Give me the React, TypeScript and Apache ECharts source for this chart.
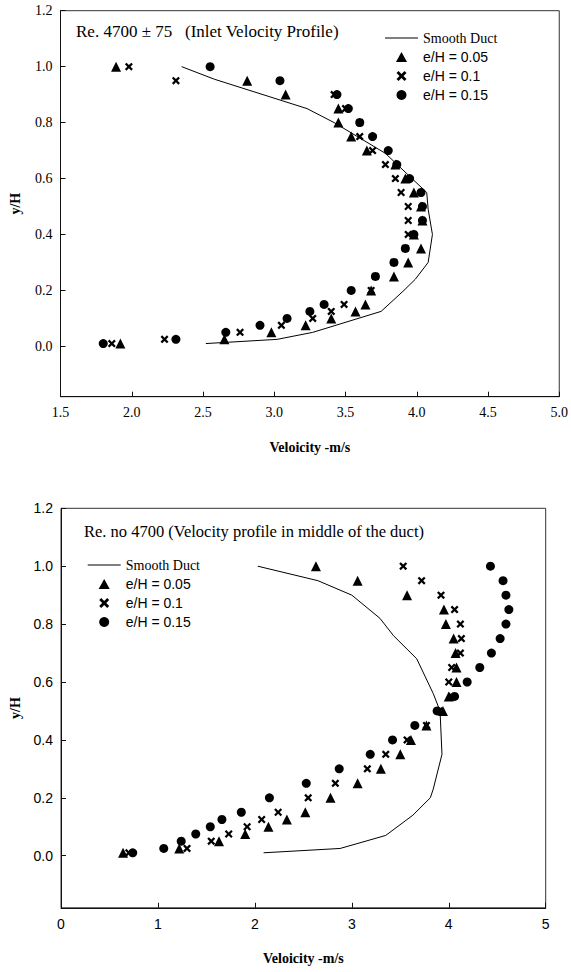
import React, { useEffect, useRef } from "react";
import * as echarts from "echarts";

// y/H positions where the profiles were measured
const Y_POS = [0.01, 0.025, 0.05, 0.075, 0.1, 0.125, 0.15, 0.2, 0.25, 0.3, 0.35, 0.4, 0.45, 0.5, 0.55, 0.6, 0.65, 0.7, 0.75, 0.8, 0.85, 0.9, 0.95, 1.0];

// Top chart: inlet velocity profile (m/s)
const TOP_E005 = [1.92, 2.65, 2.98, 3.22, 3.40, 3.57, 3.64, 3.68, 3.84, 3.94, 4.03, 3.98, 4.04, 4.03, 3.98, 3.92, 3.85, 3.65, 3.54, 3.45, 3.45, 3.08, 2.81, 1.89];
const TOP_E010 = [1.86, 2.23, 2.76, 3.05, 3.27, 3.40, 3.49, 3.68, 3.71, 3.84, 3.92, 3.94, 3.94, 3.94, 3.89, 3.85, 3.78, 3.69, 3.60, 3.60, 3.50, 3.42, 2.31, 1.98];
const TOP_E015 = [1.80, 2.31, 2.66, 2.90, 3.09, 3.25, 3.35, 3.54, 3.71, 3.84, 3.92, 3.98, 4.04, 4.04, 4.03, 3.95, 3.86, 3.80, 3.69, 3.60, 3.52, 3.44, 3.04, 2.55];
const TOP_SMOOTH_Y = [0.01, 0.025, 0.05, 0.125, 0.2, 0.24, 0.3, 0.4, 0.49, 0.55, 0.69, 0.8, 0.85, 0.955, 1.0];
const TOP_SMOOTH_V = [2.52, 3.02, 3.27, 3.75, 3.91, 3.99, 4.08, 4.11, 4.08, 4.07, 3.78, 3.42, 3.23, 2.58, 2.35];

// Bottom chart: velocity profile in the middle of the duct (m/s)
const BOT_E005 = [0.64, 1.22, 1.63, 1.90, 2.14, 2.33, 2.52, 2.78, 3.06, 3.30, 3.50, 3.61, 3.77, 3.94, 4.00, 4.08, 4.08, 4.07, 4.05, 3.97, 3.95, 3.57, 3.06, 2.63];
const BOT_E010 = [0.70, 1.30, 1.55, 1.73, 1.92, 2.07, 2.24, 2.55, 2.83, 3.16, 3.35, 3.57, 3.77, 3.90, 4.03, 4.00, 4.03, 4.12, 4.13, 4.12, 4.06, 3.92, 3.72, 3.53];
const BOT_E015 = [0.74, 1.06, 1.24, 1.39, 1.54, 1.66, 1.86, 2.15, 2.53, 2.87, 3.19, 3.42, 3.65, 3.88, 4.06, 4.19, 4.32, 4.44, 4.53, 4.59, 4.62, 4.59, 4.56, 4.43];
const BOT_SMOOTH_Y = [0.01, 0.025, 0.07, 0.14, 0.2, 0.23, 0.35, 0.5, 0.56, 0.68, 0.76, 0.82, 0.9, 0.95, 1.0];
const BOT_SMOOTH_V = [2.09, 2.88, 3.35, 3.63, 3.81, 3.84, 3.93, 3.91, 3.84, 3.67, 3.43, 3.29, 3.00, 2.65, 2.03];

const Y_TICKS = [0, 0.2, 0.4, 0.6, 0.8, 1.0, 1.2];
const SERIES_NAMES = ["Smooth Duct", "e/H = 0.05", "e/H = 0.1", "e/H = 0.15"];
const TOP_TITLE = "Re. 4700 \u00B1 75   (Inlet Velocity Profile)";
const BOT_TITLE = "Re. no 4700 (Velocity profile in middle of the duct)";
const X_NAME = "Veloicity -m/s";
const Y_NAME = "y/H";

const CROSS = "path://M0,2L2,0L5,3L8,0L10,2L7,5L10,8L8,10L5,7L2,10L0,8L3,5Z";
const TRI = "path://M5,0L10,9L0,9Z";
const LINE_ICON = "path://M0,0L32,0L32,1L0,1Z";
const SERIF = "Liberation Serif";
const SANS = "Liberation Sans";

const pairs = (xs: number[], ys: number[]) => xs.map((x, i) => [x, ys[i]]);

function buildOption() {
  const axisLine = { show: true, onZero: false, lineStyle: { color: "#111", width: 1 } };
  const tick = { show: true, inside: true, length: 5, lineStyle: { color: "#111" } };
  const black = { color: "#000", opacity: 1 };

  const xAxisCommon = (font: string, digits: number) => ({
    type: "value",
    axisLine,
    axisTick: tick,
    splitLine: { show: false },
    axisLabel: {
      color: "#000",
      fontFamily: font,
      fontSize: 14,
      margin: 9,
      formatter: (v: number) => v.toFixed(digits),
    },
    name: X_NAME,
    nameLocation: "middle",
    nameGap: 44,
    nameTextStyle: { fontFamily: SERIF, fontWeight: "bold", fontSize: 14, color: "#000" },
  });

  const yAxisCommon = (font: string) => ({
    type: "value",
    min: -0.18,
    max: 1.2,
    axisLine,
    axisTick: { ...tick, customValues: Y_TICKS },
    splitLine: { show: false },
    axisLabel: {
      customValues: Y_TICKS,
      color: "#000",
      fontFamily: font,
      fontSize: 14,
      margin: 8,
      formatter: (v: number) => v.toFixed(1),
    },
    name: Y_NAME,
    nameLocation: "middle",
    nameGap: 38,
    nameRotate: 90,
    nameTextStyle: { fontFamily: SERIF, fontWeight: "bold", fontSize: 14, color: "#000" },
  });

  const makeSeries = (idx: number, smoothV: number[], smoothY: number[], a: number[], b: number[], c: number[]) => [
    {
      name: SERIES_NAMES[0],
      type: "line",
      xAxisIndex: idx,
      yAxisIndex: idx,
      data: pairs(smoothV, smoothY),
      symbol: "none",
      lineStyle: { color: "#000", width: 1, opacity: 1 },
      itemStyle: black,
    },
    {
      name: SERIES_NAMES[1],
      type: "scatter",
      xAxisIndex: idx,
      yAxisIndex: idx,
      data: pairs(a, Y_POS),
      symbol: "triangle",
      symbolSize: 10,
      itemStyle: black,
    },
    {
      name: SERIES_NAMES[2],
      type: "scatter",
      xAxisIndex: idx,
      yAxisIndex: idx,
      data: pairs(b, Y_POS),
      symbol: CROSS,
      symbolSize: 8,
      itemStyle: black,
    },
    {
      name: SERIES_NAMES[3],
      type: "scatter",
      xAxisIndex: idx,
      yAxisIndex: idx,
      data: pairs(c, Y_POS),
      symbol: "circle",
      symbolSize: 9,
      itemStyle: black,
    },
  ];

  const legend = (left: number, top: number) => ({
    left,
    top,
    orient: "vertical",
    align: "left",
    itemWidth: 33,
    itemHeight: 10,
    itemGap: 5,
    selectedMode: false,
    itemStyle: { opacity: 1 },
    textStyle: { fontFamily: SANS, fontSize: 14, color: "#000" },
    data: [
      { name: SERIES_NAMES[0], icon: LINE_ICON, textStyle: { fontFamily: SERIF, fontSize: 14, color: "#000" } },
      { name: SERIES_NAMES[1], icon: TRI },
      { name: SERIES_NAMES[2], icon: CROSS },
      { name: SERIES_NAMES[3], icon: "circle" },
    ],
  });

  return {
    animation: false,
    backgroundColor: "#fff",
    grid: [
      { left: 60.5, top: 10.7, width: 500.5, height: 386, show: true, borderColor: "#333", borderWidth: 1, backgroundColor: "transparent" },
      { left: 61, top: 508.3, width: 484.7, height: 399.5, show: true, borderColor: "#333", borderWidth: 1, backgroundColor: "transparent" },
    ],
    xAxis: [
      { ...xAxisCommon(SERIF, 1), gridIndex: 0, min: 1.5, max: 5, interval: 0.5 },
      { ...xAxisCommon(SANS, 0), gridIndex: 1, min: 0, max: 5, interval: 1 },
    ],
    yAxis: [
      { ...yAxisCommon(SERIF), gridIndex: 0 },
      { ...yAxisCommon(SANS), gridIndex: 1 },
    ],
    legend: [legend(380, 26), legend(82.7, 553)],
    graphic: [
      {
        type: "text",
        x: 76,
        y: 31.7,
        style: { text: TOP_TITLE, fontFamily: SERIF, fontSize: 17, fill: "#000", verticalAlign: "middle" },
      },
      {
        type: "text",
        x: 84,
        y: 531.7,
        style: { text: BOT_TITLE, fontFamily: SERIF, fontSize: 16.5, fill: "#000", verticalAlign: "middle" },
      },
    ],
    series: [
      ...makeSeries(0, TOP_SMOOTH_V, TOP_SMOOTH_Y, TOP_E005, TOP_E010, TOP_E015),
      ...makeSeries(1, BOT_SMOOTH_V, BOT_SMOOTH_Y, BOT_E005, BOT_E010, BOT_E015),
    ],
  };
}

export default function App() {
  const ref = useRef<HTMLDivElement>(null);
  useEffect(() => {
    if (!ref.current) return;
    const chart = echarts.init(ref.current, null, { renderer: "svg" });
    chart.setOption(buildOption() as any);
    return () => chart.dispose();
  }, []);
  return (
    <div
      ref={ref}
      style={{ position: "absolute", left: 0, top: 0, width: 571, height: 972, background: "#fff" }}
    />
  );
}
